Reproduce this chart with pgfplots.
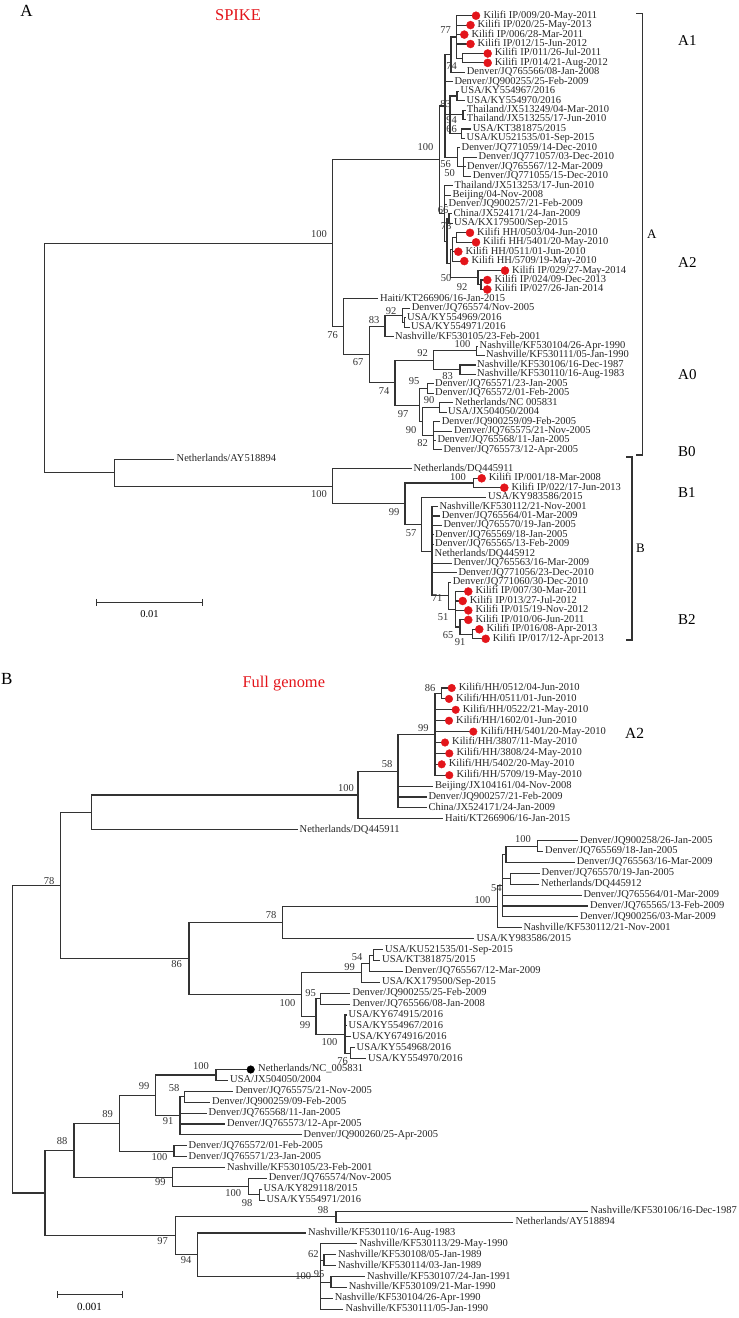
\documentclass[border=0pt]{standalone}
\usepackage{fontspec}
\setmainfont{Liberation Serif}
\usepackage{pgfplots}
\pgfplotsset{compat=1.18}
\definecolor{treeline}{HTML}{333333}
\definecolor{dotred}{HTML}{E3151B}
\tikzset{
  lab/.style={anchor=west, inner sep=0pt, font=\fontsize{10.5}{12}\selectfont, text height=7pt, text depth=2.2pt, text=black!85},
  bsl/.style={anchor=center, inner sep=0pt, font=\fontsize{10.5}{12}\selectfont, text=black!80},
}
\newcommand\lf[3]{\node[lab] at (axis cs:#1,#2) {#3};}
\newcommand\bs[3]{\node[bsl] at (axis cs:#1,#2) {#3};}
\begin{document}
\begin{tikzpicture}
\begin{axis}[name=ax, width=739pt, height=1318pt, scale only axis, xmin=0, xmax=739, ymin=0, ymax=1318, y dir=reverse, hide axis, clip=false, unbounded coords=jump]
% ---------------- Panel A tree ----------------
\addplot[treeline, line width=1.1pt, mark=none] coordinates {
(44.3,358) (44.3,243.15) (332.7,243.15) (nan,nan)
(44.3,358) (44.3,472.8) (114.7,472.8) (nan,nan)
(332.7,243.15) (332.7,159.65) (439.3,159.65) (nan,nan)
(332.7,243.15) (332.7,326.65) (343.3,326.65) (nan,nan)
(439.3,159.65) (439.3,105.95) (445,105.95) (nan,nan)
(439.3,159.65) (439.3,213.35) (444.5,213.35) (nan,nan)
(445,105.95) (445,54.6) (451,54.6) (nan,nan)
(445,105.95) (445,81.8) (452.5,81.8) (nan,nan)
(445,105.95) (445,114.85) (450,114.85) (nan,nan)
(445,105.95) (445,157.3) (457.3,157.3) (nan,nan)
(451,54.6) (451,37) (456.7,37) (nan,nan)
(451,54.6) (451,72.3) (465,72.3) (nan,nan)
(456.7,37) (456.7,15.7) (476,15.7) (nan,nan)
(456.7,37) (456.7,25.1) (470.5,25.1) (nan,nan)
(456.7,37) (456.7,34.6) (464.3,34.6) (nan,nan)
(456.7,37) (456.7,44) (470.5,44) (nan,nan)
(456.7,37) (456.7,58.2) (462.3,58.2) (nan,nan)
(462.3,58.2) (462.3,53.5) (487.7,53.5) (nan,nan)
(462.3,58.2) (462.3,62.9) (487.7,62.9) (nan,nan)
(450,114.85) (450,95.95) (457,95.95) (nan,nan)
(450,114.85) (450,114.8) (463,114.8) (nan,nan)
(450,114.85) (450,133.7) (461.7,133.7) (nan,nan)
(457,95.95) (457,91.2) (459,91.2) (nan,nan)
(457,95.95) (457,100.7) (465,100.7) (nan,nan)
(463,114.8) (463,110.1) (465.5,110.1) (nan,nan)
(463,114.8) (463,119.5) (465.5,119.5) (nan,nan)
(461.7,133.7) (461.7,129) (471,129) (nan,nan)
(461.7,133.7) (461.7,138.4) (465,138.4) (nan,nan)
(457.3,157.3) (457.3,147.9) (460,147.9) (nan,nan)
(457.3,157.3) (457.3,166.75) (463.3,166.75) (nan,nan)
(463.3,166.75) (463.3,157.3) (477,157.3) (nan,nan)
(463.3,166.75) (463.3,166.7) (465.5,166.7) (nan,nan)
(463.3,166.75) (463.3,176.2) (471,176.2) (nan,nan)
(444.5,213.35) (444.5,185.6) (453,185.6) (nan,nan)
(444.5,213.35) (444.5,195.1) (451,195.1) (nan,nan)
(444.5,213.35) (444.5,204.5) (447,204.5) (nan,nan)
(444.5,213.35) (444.5,241.1) (447,241.1) (nan,nan)
(447,241.1) (447,218.65) (449,218.65) (nan,nan)
(447,241.1) (447,263.5) (450.5,263.5) (nan,nan)
(449,218.65) (449,213.9) (452,213.9) (nan,nan)
(449,218.65) (449,223.4) (452.5,223.4) (nan,nan)
(450.5,263.5) (450.5,249.3) (452.5,249.3) (nan,nan)
(450.5,263.5) (450.5,277.7) (478,277.7) (nan,nan)
(452.5,249.3) (452.5,237.55) (456.7,237.55) (nan,nan)
(452.5,249.3) (452.5,251.7) (458.3,251.7) (nan,nan)
(452.5,249.3) (452.5,261.1) (464.3,261.1) (nan,nan)
(456.7,237.55) (456.7,232.8) (470,232.8) (nan,nan)
(456.7,237.55) (456.7,242.3) (476,242.3) (nan,nan)
(478,277.7) (478,270.6) (505,270.6) (nan,nan)
(478,277.7) (478,284.75) (481,284.75) (nan,nan)
(481,284.75) (481,280) (487.3,280) (nan,nan)
(481,284.75) (481,289.5) (487.3,289.5) (nan,nan)
(343.3,326.65) (343.3,298.9) (378,298.9) (nan,nan)
(343.3,326.65) (343.3,354.4) (369.3,354.4) (nan,nan)
(369.3,354.4) (369.3,326.05) (385,326.05) (nan,nan)
(369.3,354.4) (369.3,382.7) (395,382.7) (nan,nan)
(385,326.05) (385,315.4) (402.7,315.4) (nan,nan)
(385,326.05) (385,336.7) (393.5,336.7) (nan,nan)
(402.7,315.4) (402.7,308.3) (410,308.3) (nan,nan)
(402.7,315.4) (402.7,322.5) (404.5,322.5) (nan,nan)
(404.5,322.5) (404.5,317.8) (405.5,317.8) (nan,nan)
(404.5,322.5) (404.5,327.2) (409.5,327.2) (nan,nan)
(395,382.7) (395,360.25) (433.3,360.25) (nan,nan)
(395,382.7) (395,405.1) (419.5,405.1) (nan,nan)
(433.3,360.25) (433.3,350.8) (476.7,350.8) (nan,nan)
(433.3,360.25) (433.3,369.7) (460,369.7) (nan,nan)
(476.7,350.8) (476.7,346.1) (478,346.1) (nan,nan)
(476.7,350.8) (476.7,355.5) (484.5,355.5) (nan,nan)
(460,369.7) (460,365) (475.5,365) (nan,nan)
(460,369.7) (460,374.4) (475.5,374.4) (nan,nan)
(419.5,405.1) (419.5,388.6) (427.3,388.6) (nan,nan)
(419.5,405.1) (419.5,421.6) (422.5,421.6) (nan,nan)
(427.3,388.6) (427.3,383.9) (433.5,383.9) (nan,nan)
(427.3,388.6) (427.3,393.3) (433.5,393.3) (nan,nan)
(422.5,421.6) (422.5,407.45) (439.3,407.45) (nan,nan)
(422.5,421.6) (422.5,435.75) (433.3,435.75) (nan,nan)
(439.3,407.45) (439.3,402.7) (453,402.7) (nan,nan)
(439.3,407.45) (439.3,412.2) (446.5,412.2) (nan,nan)
(433.3,435.75) (433.3,421.6) (440,421.6) (nan,nan)
(433.3,435.75) (433.3,431.1) (452,431.1) (nan,nan)
(433.3,435.75) (433.3,440.5) (435.5,440.5) (nan,nan)
(433.3,435.75) (433.3,449.9) (441.5,449.9) (nan,nan)
(114.7,472.8) (114.7,459.4) (174,459.4) (nan,nan)
(114.7,472.8) (114.7,486.2) (332.7,486.2) (nan,nan)
(332.7,486.2) (332.7,468.8) (411.5,468.8) (nan,nan)
(332.7,486.2) (332.7,503.55) (405,503.55) (nan,nan)
(405,503.55) (405,483) (473.3,483) (nan,nan)
(405,503.55) (405,524.1) (421.7,524.1) (nan,nan)
(473.3,483) (473.3,478.3) (481.7,478.3) (nan,nan)
(473.3,483) (473.3,487.7) (504.3,487.7) (nan,nan)
(421.7,524.1) (421.7,497.1) (486,497.1) (nan,nan)
(421.7,524.1) (421.7,551.15) (432,551.15) (nan,nan)
(432,551.15) (432,506.6) (437.5,506.6) (nan,nan)
(432,551.15) (432,516) (440,516) (nan,nan)
(432,551.15) (432,525.5) (441.5,525.5) (nan,nan)
(432,551.15) (432,534.9) (433.5,534.9) (nan,nan)
(432,551.15) (432,544.3) (433.5,544.3) (nan,nan)
(432,551.15) (432,553.8) (433,553.8) (nan,nan)
(432,551.15) (432,563.2) (451.5,563.2) (nan,nan)
(432,551.15) (432,572.7) (456.5,572.7) (nan,nan)
(432,551.15) (432,595.7) (448.3,595.7) (nan,nan)
(448.3,595.7) (448.3,582.1) (451,582.1) (nan,nan)
(448.3,595.7) (448.3,609.25) (455.5,609.25) (nan,nan)
(455.5,609.25) (455.5,591.5) (468.3,591.5) (nan,nan)
(455.5,609.25) (455.5,601) (462.7,601) (nan,nan)
(455.5,609.25) (455.5,610.4) (468.3,610.4) (nan,nan)
(455.5,609.25) (455.5,627) (460,627) (nan,nan)
(460,627) (460,619.9) (468.3,619.9) (nan,nan)
(460,627) (460,634.05) (472.7,634.05) (nan,nan)
(472.7,634.05) (472.7,629.3) (479.3,629.3) (nan,nan)
(472.7,634.05) (472.7,638.8) (485.7,638.8) (nan,nan)
};
% ---------------- Panel B tree ----------------
\addplot[treeline, line width=1.1pt, mark=none] coordinates {
(12.3,1039.2) (12.3,885.5) (60.7,885.5) (nan,nan)
(12.3,1039.2) (12.3,1192.95) (45,1192.95) (nan,nan)
(60.7,885.5) (60.7,812.3) (91.7,812.3) (nan,nan)
(60.7,885.5) (60.7,958.65) (189,958.65) (nan,nan)
(91.7,812.3) (91.7,794.95) (358,794.95) (nan,nan)
(91.7,812.3) (91.7,829.7) (297.7,829.7) (nan,nan)
(358,794.95) (358,771.1) (398,771.1) (nan,nan)
(358,794.95) (358,818.8) (443,818.8) (nan,nan)
(398,771.1) (398,734.3) (435,734.3) (nan,nan)
(398,771.1) (398,786.1) (433,786.1) (nan,nan)
(398,771.1) (398,797) (426.5,797) (nan,nan)
(398,771.1) (398,807.9) (426.5,807.9) (nan,nan)
(435,734.3) (435,693.45) (441.7,693.45) (nan,nan)
(435,734.3) (435,709.8) (455.7,709.8) (nan,nan)
(435,734.3) (435,720.7) (449,720.7) (nan,nan)
(435,734.3) (435,731.6) (473.3,731.6) (nan,nan)
(435,734.3) (435,742.5) (445,742.5) (nan,nan)
(435,734.3) (435,753.4) (449.3,753.4) (nan,nan)
(435,734.3) (435,764.3) (441.7,764.3) (nan,nan)
(435,734.3) (435,775.2) (449.3,775.2) (nan,nan)
(441.7,693.45) (441.7,688) (451.7,688) (nan,nan)
(441.7,693.45) (441.7,698.9) (449,698.9) (nan,nan)
(189,958.65) (189,922.7) (282.7,922.7) (nan,nan)
(189,958.65) (189,994.6) (301.7,994.6) (nan,nan)
(282.7,922.7) (282.7,906.7) (497.7,906.7) (nan,nan)
(282.7,922.7) (282.7,938.7) (474.3,938.7) (nan,nan)
(497.7,906.7) (497.7,885.55) (502.7,885.55) (nan,nan)
(497.7,906.7) (497.7,927.8) (521.7,927.8) (nan,nan)
(502.7,885.55) (502.7,854.2) (506,854.2) (nan,nan)
(502.7,885.55) (502.7,878.75) (510.7,878.75) (nan,nan)
(502.7,885.55) (502.7,895.1) (581.5,895.1) (nan,nan)
(502.7,885.55) (502.7,906) (588,906) (nan,nan)
(502.7,885.55) (502.7,916.9) (578,916.9) (nan,nan)
(506,854.2) (506,846.05) (537.3,846.05) (nan,nan)
(506,854.2) (506,862.4) (575,862.4) (nan,nan)
(537.3,846.05) (537.3,840.6) (578,840.6) (nan,nan)
(537.3,846.05) (537.3,851.5) (543,851.5) (nan,nan)
(510.7,878.75) (510.7,873.3) (539.5,873.3) (nan,nan)
(510.7,878.75) (510.7,884.2) (539,884.2) (nan,nan)
(301.7,994.6) (301.7,972.75) (361.7,972.75) (nan,nan)
(301.7,994.6) (301.7,1016.4) (316,1016.4) (nan,nan)
(361.7,972.75) (361.7,963.2) (369.3,963.2) (nan,nan)
(361.7,972.75) (361.7,982.3) (380,982.3) (nan,nan)
(369.3,963.2) (369.3,955.05) (373.3,955.05) (nan,nan)
(369.3,963.2) (369.3,971.4) (402.7,971.4) (nan,nan)
(373.3,955.05) (373.3,949.6) (383,949.6) (nan,nan)
(373.3,955.05) (373.3,960.5) (380,960.5) (nan,nan)
(316,1016.4) (316,998.65) (320.7,998.65) (nan,nan)
(316,1016.4) (316,1034.1) (345,1034.1) (nan,nan)
(320.7,998.65) (320.7,993.2) (350,993.2) (nan,nan)
(320.7,998.65) (320.7,1004.1) (350,1004.1) (nan,nan)
(345,1034.1) (345,1015) (347,1015) (nan,nan)
(345,1034.1) (345,1025.9) (347,1025.9) (nan,nan)
(345,1034.1) (345,1036.8) (350.5,1036.8) (nan,nan)
(345,1034.1) (345,1053.15) (350.7,1053.15) (nan,nan)
(350.7,1053.15) (350.7,1047.7) (355,1047.7) (nan,nan)
(350.7,1053.15) (350.7,1058.6) (366,1058.6) (nan,nan)
(45,1192.95) (45,1150.2) (74,1150.2) (nan,nan)
(45,1192.95) (45,1235.7) (175.7,1235.7) (nan,nan)
(74,1150.2) (74,1123.3) (119.3,1123.3) (nan,nan)
(74,1150.2) (74,1177.15) (172.3,1177.15) (nan,nan)
(119.3,1123.3) (119.3,1095.4) (155.7,1095.4) (nan,nan)
(119.3,1123.3) (119.3,1151.25) (174,1151.25) (nan,nan)
(155.7,1095.4) (155.7,1074.95) (216,1074.95) (nan,nan)
(155.7,1095.4) (155.7,1115.8) (180,1115.8) (nan,nan)
(216,1074.95) (216,1069.5) (250.7,1069.5) (nan,nan)
(216,1074.95) (216,1080.4) (228,1080.4) (nan,nan)
(180,1115.8) (180,1096.75) (184.3,1096.75) (nan,nan)
(180,1115.8) (180,1113.1) (206.7,1113.1) (nan,nan)
(180,1115.8) (180,1124) (225,1124) (nan,nan)
(180,1115.8) (180,1134.9) (301.7,1134.9) (nan,nan)
(184.3,1096.75) (184.3,1091.3) (233.3,1091.3) (nan,nan)
(184.3,1096.75) (184.3,1102.2) (210,1102.2) (nan,nan)
(174,1151.25) (174,1145.8) (186.7,1145.8) (nan,nan)
(174,1151.25) (174,1156.7) (186.7,1156.7) (nan,nan)
(172.3,1177.15) (172.3,1167.6) (225,1167.6) (nan,nan)
(172.3,1177.15) (172.3,1186.7) (248.3,1186.7) (nan,nan)
(248.3,1186.7) (248.3,1178.5) (266.7,1178.5) (nan,nan)
(248.3,1186.7) (248.3,1194.85) (259.3,1194.85) (nan,nan)
(259.3,1194.85) (259.3,1189.4) (261.5,1189.4) (nan,nan)
(259.3,1194.85) (259.3,1200.3) (264.5,1200.3) (nan,nan)
(175.7,1235.7) (175.7,1216.65) (336,1216.65) (nan,nan)
(175.7,1235.7) (175.7,1254.8) (197.7,1254.8) (nan,nan)
(336,1216.65) (336,1211.2) (588.3,1211.2) (nan,nan)
(336,1216.65) (336,1222.1) (513.3,1222.1) (nan,nan)
(197.7,1254.8) (197.7,1233) (306,1233) (nan,nan)
(197.7,1254.8) (197.7,1276.6) (320.7,1276.6) (nan,nan)
(320.7,1276.6) (320.7,1243.9) (357.3,1243.9) (nan,nan)
(320.7,1276.6) (320.7,1260.25) (324,1260.25) (nan,nan)
(320.7,1276.6) (320.7,1282.05) (331,1282.05) (nan,nan)
(320.7,1276.6) (320.7,1298.4) (332.7,1298.4) (nan,nan)
(320.7,1276.6) (320.7,1309.3) (343.3,1309.3) (nan,nan)
(324,1260.25) (324,1254.8) (336,1254.8) (nan,nan)
(324,1260.25) (324,1265.7) (336,1265.7) (nan,nan)
(331,1282.05) (331,1276.6) (365,1276.6) (nan,nan)
(331,1282.05) (331,1287.5) (346.7,1287.5) (nan,nan)
};
% scale bars and brackets
\addplot[treeline, line width=1.1pt, mark=none] coordinates {
(96.7,602.3) (202.3,602.3) (nan,nan)
(96.7,598.8) (96.7,605.8) (nan,nan)
(202.3,598.8) (202.3,605.8) (nan,nan)
(57.3,1294.7) (122.7,1294.7) (nan,nan)
(57.3,1291.2) (57.3,1298.2) (nan,nan)
(122.7,1291.2) (122.7,1298.2) (nan,nan)
(636,13.6) (642.3,13.6) (642.3,455) (636,455) (nan,nan)
(626,457) (632,457) (632,640) (626,640)
};
% red dots
\addplot[only marks, mark=*, mark size=4pt, color=dotred] coordinates {
(476,15.7) (470.5,25.1) (464.3,34.6) (470.5,44) (487.7,53.5) (487.7,62.9)
(470,232.8) (476,242.3) (458.3,251.7) (464.3,261.1) (505,270.6) (487.3,280) (487.3,289.5)
(481.7,478.3) (504.3,487.7)
(468.3,591.5) (462.7,601) (468.3,610.4) (468.3,619.9) (479.3,629.3) (485.7,638.8)
};
\addplot[only marks, mark=*, mark size=3.8pt, color=dotred] coordinates {
(451.7,688) (449,698.9) (455.7,709.8) (449,720.7) (473.3,731.6) (445,742.5) (449.3,753.4) (441.7,764.3) (449.3,775.2)
};
\addplot[only marks, mark=*, mark size=3.8pt, color=black] coordinates {(250.7,1069.5)};
% ---------------- Panel A labels ----------------
\lf{483.3}{15.7}{Kilifi IP/009/20-May-2011}
\lf{477.5}{25.1}{Kilifi IP/020/25-May-2013}
\lf{471.3}{34.6}{Kilifi IP/006/28-Mar-2011}
\lf{477.5}{44}{Kilifi IP/012/15-Jun-2012}
\lf{494.7}{53.5}{Kilifi IP/011/26-Jul-2011}
\lf{494.7}{62.9}{Kilifi IP/014/21-Aug-2012}
\lf{466.7}{72.3}{Denver/JQ765566/08-Jan-2008}
\lf{454.3}{81.8}{Denver/JQ900255/25-Feb-2009}
\lf{460.5}{91.2}{USA/KY554967/2016}
\lf{466.5}{100.7}{USA/KY554970/2016}
\lf{466.7}{110.1}{Thailand/JX513249/04-Mar-2010}
\lf{466.7}{119.5}{Thailand/JX513255/17-Jun-2010}
\lf{472.7}{129}{USA/KT381875/2015}
\lf{466.5}{138.4}{USA/KU521535/01-Sep-2015}
\lf{461.5}{147.9}{Denver/JQ771059/14-Dec-2010}
\lf{478.5}{157.3}{Denver/JQ771057/03-Dec-2010}
\lf{467}{166.7}{Denver/JQ765567/12-Mar-2009}
\lf{472.7}{176.2}{Denver/JQ771055/15-Dec-2010}
\lf{454.5}{185.6}{Thailand/JX513253/17-Jun-2010}
\lf{452.5}{195.1}{Beijing/04-Nov-2008}
\lf{448.5}{204.5}{Denver/JQ900257/21-Feb-2009}
\lf{453.5}{213.9}{China/JX524171/24-Jan-2009}
\lf{454}{223.4}{USA/KX179500/Sep-2015}
\lf{477}{232.8}{Kilifi HH/0503/04-Jun-2010}
\lf{483}{242.3}{Kilifi HH/5401/20-May-2010}
\lf{465.3}{251.7}{Kilifi HH/0511/01-Jun-2010}
\lf{471.3}{261.1}{Kilifi HH/5709/19-May-2010}
\lf{512}{270.6}{Kilifi IP/029/27-May-2014}
\lf{494.3}{280}{Kilifi IP/024/09-Dec-2013}
\lf{494.3}{289.5}{Kilifi IP/027/26-Jan-2014}
\lf{380}{298.9}{Haiti/KT266906/16-Jan-2015}
\lf{411.7}{308.3}{Denver/JQ765574/Nov-2005}
\lf{407}{317.8}{USA/KY554969/2016}
\lf{411}{327.2}{USA/KY554971/2016}
\lf{395}{336.7}{Nashville/KF530105/23-Feb-2001}
\lf{479.5}{346.1}{Nashville/KF530104/26-Apr-1990}
\lf{486}{355.5}{Nashville/KF530111/05-Jan-1990}
\lf{477}{365}{Nashville/KF530106/16-Dec-1987}
\lf{477}{374.4}{Nashville/KF530110/16-Aug-1983}
\lf{435}{383.9}{Denver/JQ765571/23-Jan-2005}
\lf{435}{393.3}{Denver/JQ765572/01-Feb-2005}
\lf{455}{402.7}{Netherlands/NC 005831}
\lf{448}{412.2}{USA/JX504050/2004}
\lf{441.7}{421.6}{Denver/JQ900259/09-Feb-2005}
\lf{454}{431.1}{Denver/JQ765575/21-Nov-2005}
\lf{437.3}{440.5}{Denver/JQ765568/11-Jan-2005}
\lf{443.3}{449.9}{Denver/JQ765573/12-Apr-2005}
\lf{176.5}{459.4}{Netherlands/AY518894}
\lf{413.3}{468.8}{Netherlands/DQ445911}
\lf{488.7}{478.3}{Kilifi IP/001/18-Mar-2008}
\lf{511.3}{487.7}{Kilifi IP/022/17-Jun-2013}
\lf{488}{497.1}{USA/KY983586/2015}
\lf{439.3}{506.6}{Nashville/KF530112/21-Nov-2001}
\lf{441.7}{516}{Denver/JQ765564/01-Mar-2009}
\lf{443.3}{525.5}{Denver/JQ765570/19-Jan-2005}
\lf{435}{534.9}{Denver/JQ765569/18-Jan-2005}
\lf{435}{544.3}{Denver/JQ765565/13-Feb-2009}
\lf{434.5}{553.8}{Netherlands/DQ445912}
\lf{453.3}{563.2}{Denver/JQ765563/16-Mar-2009}
\lf{458.3}{572.7}{Denver/JQ771056/23-Dec-2010}
\lf{452.7}{582.1}{Denver/JQ771060/30-Dec-2010}
\lf{475.3}{591.5}{Kilifi IP/007/30-Mar-2011}
\lf{469.7}{601}{Kilifi IP/013/27-Jul-2012}
\lf{475.3}{610.4}{Kilifi IP/015/19-Nov-2012}
\lf{475.3}{619.9}{Kilifi IP/010/06-Jun-2011}
\lf{486.3}{629.3}{Kilifi IP/016/08-Apr-2013}
\lf{492.7}{638.8}{Kilifi IP/017/12-Apr-2013}
% bootstrap A
\bs{445.5}{30}{77}
\bs{451.5}{66.5}{74}
\bs{445.5}{104}{83}
\bs{451.7}{120}{94}
\bs{451.5}{129}{66}
\bs{425.5}{147.5}{100}
\bs{445.5}{164}{56}
\bs{449.5}{173.5}{50}
\bs{443}{210.5}{66}
\bs{446}{226}{78}
\bs{446}{278.3}{50}
\bs{462}{287}{92}
\bs{319}{234}{100}
\bs{332.5}{335}{76}
\bs{358}{362.5}{67}
\bs{374}{319.6}{83}
\bs{391}{310.7}{92}
\bs{384}{391}{74}
\bs{422.5}{352.7}{92}
\bs{462.5}{344.5}{100}
\bs{447.5}{376.5}{83}
\bs{414}{381}{95}
\bs{429}{400}{90}
\bs{403}{414}{97}
\bs{411}{430}{90}
\bs{422.5}{443.3}{82}
\bs{319}{494}{100}
\bs{458}{477.5}{100}
\bs{394}{511.7}{99}
\bs{411}{533.3}{57}
\bs{437}{598.3}{71}
\bs{443}{617.3}{51}
\bs{448}{635}{65}
\bs{460}{641.7}{91}
% titles and clade labels A
\node[anchor=center, inner sep=0pt, font=\fontsize{17}{20}\selectfont] at (axis cs:26.5,11) {A};
\node[anchor=center, inner sep=0pt, font=\fontsize{16.5}{20}\selectfont, text=dotred] at (axis cs:238,15) {SPIKE};
\node[anchor=center, inner sep=0pt, font=\fontsize{10.5}{12}\selectfont] at (axis cs:149.5,614.3) {0.01};
\node[anchor=west, inner sep=0pt, font=\fontsize{13}{15}\selectfont] at (axis cs:647,234) {A};
\node[anchor=west, inner sep=0pt, font=\fontsize{13}{15}\selectfont] at (axis cs:636,548) {B};
\node[anchor=west, inner sep=0pt, font=\fontsize{15}{18}\selectfont] at (axis cs:678,41) {A1};
\node[anchor=west, inner sep=0pt, font=\fontsize{15}{18}\selectfont] at (axis cs:678,262.5) {A2};
\node[anchor=west, inner sep=0pt, font=\fontsize{15}{18}\selectfont] at (axis cs:678,375) {A0};
\node[anchor=west, inner sep=0pt, font=\fontsize{15}{18}\selectfont] at (axis cs:678,452) {B0};
\node[anchor=west, inner sep=0pt, font=\fontsize{15}{18}\selectfont] at (axis cs:678,493) {B1};
\node[anchor=west, inner sep=0pt, font=\fontsize{15}{18}\selectfont] at (axis cs:678,620) {B2};
% ---------------- Panel B labels ----------------
\lf{458.7}{688}{Kilifi/HH/0512/04-Jun-2010}
\lf{456}{698.9}{Kilifi/HH/0511/01-Jun-2010}
\lf{462.7}{709.8}{Kilifi/HH/0522/21-May-2010}
\lf{456}{720.7}{Kilifi/HH/1602/01-Jun-2010}
\lf{480.3}{731.6}{Kilifi/HH/5401/20-May-2010}
\lf{452}{742.5}{Kilifi/HH/3807/11-May-2010}
\lf{456.3}{753.4}{Kilifi/HH/3808/24-May-2010}
\lf{448.7}{764.3}{Kilifi/HH/5402/20-May-2010}
\lf{456.3}{775.2}{Kilifi/HH/5709/19-May-2010}
\lf{435}{786.1}{Beijing/JX104161/04-Nov-2008}
\lf{428.3}{797}{Denver/JQ900257/21-Feb-2009}
\lf{428.3}{807.9}{China/JX524171/24-Jan-2009}
\lf{445}{818.8}{Haiti/KT266906/16-Jan-2015}
\lf{299.5}{829.7}{Netherlands/DQ445911}
\lf{580}{840.6}{Denver/JQ900258/26-Jan-2005}
\lf{545}{851.5}{Denver/JQ765569/18-Jan-2005}
\lf{576.7}{862.4}{Denver/JQ765563/16-Mar-2009}
\lf{541.5}{873.3}{Denver/JQ765570/19-Jan-2005}
\lf{541}{884.2}{Netherlands/DQ445912}
\lf{583.3}{895.1}{Denver/JQ765564/01-Mar-2009}
\lf{590}{906}{Denver/JQ765565/13-Feb-2009}
\lf{580}{916.9}{Denver/JQ900256/03-Mar-2009}
\lf{523.3}{927.8}{Nashville/KF530112/21-Nov-2001}
\lf{476.3}{938.7}{USA/KY983586/2015}
\lf{385}{949.6}{USA/KU521535/01-Sep-2015}
\lf{382}{960.5}{USA/KT381875/2015}
\lf{404.7}{971.4}{Denver/JQ765567/12-Mar-2009}
\lf{382}{982.3}{USA/KX179500/Sep-2015}
\lf{352.3}{993.2}{Denver/JQ900255/25-Feb-2009}
\lf{352.3}{1004.1}{Denver/JQ765566/08-Jan-2008}
\lf{348.5}{1015}{USA/KY674915/2016}
\lf{348.5}{1025.9}{USA/KY554967/2016}
\lf{352}{1036.8}{USA/KY674916/2016}
\lf{356.5}{1047.7}{USA/KY554968/2016}
\lf{368}{1058.6}{USA/KY554970/2016}
\lf{258}{1069.5}{Netherlands/NC\_005831}
\lf{230}{1080.4}{USA/JX504050/2004}
\lf{235.3}{1091.3}{Denver/JQ765575/21-Nov-2005}
\lf{212}{1102.2}{Denver/JQ900259/09-Feb-2005}
\lf{208.5}{1113.1}{Denver/JQ765568/11-Jan-2005}
\lf{227}{1124}{Denver/JQ765573/12-Apr-2005}
\lf{303.5}{1134.9}{Denver/JQ900260/25-Apr-2005}
\lf{188.5}{1145.8}{Denver/JQ765572/01-Feb-2005}
\lf{188.5}{1156.7}{Denver/JQ765571/23-Jan-2005}
\lf{227}{1167.6}{Nashville/KF530105/23-Feb-2001}
\lf{268.7}{1178.5}{Denver/JQ765574/Nov-2005}
\lf{263.3}{1189.4}{USA/KY829118/2015}
\lf{266.3}{1200.3}{USA/KY554971/2016}
\lf{590.3}{1211.2}{Nashville/KF530106/16-Dec-1987}
\lf{515.3}{1222.1}{Netherlands/AY518894}
\lf{308}{1233}{Nashville/KF530110/16-Aug-1983}
\lf{359.3}{1243.9}{Nashville/KF530113/29-May-1990}
\lf{338}{1254.8}{Nashville/KF530108/05-Jan-1989}
\lf{338}{1265.7}{Nashville/KF530114/03-Jan-1989}
\lf{367}{1276.6}{Nashville/KF530107/24-Jan-1991}
\lf{348.7}{1287.5}{Nashville/KF530109/21-Mar-1990}
\lf{334.7}{1298.4}{Nashville/KF530104/26-Apr-1990}
\lf{345.3}{1309.3}{Nashville/KF530111/05-Jan-1990}
% bootstrap B
\bs{430}{688.3}{86}
\bs{423.3}{728}{99}
\bs{387}{764}{58}
\bs{346}{788}{100}
\bs{523}{839}{100}
\bs{496.3}{888.3}{54}
\bs{482.5}{900}{100}
\bs{271}{915}{78}
\bs{357}{956.7}{54}
\bs{349.7}{966.7}{99}
\bs{310.5}{992.7}{95}
\bs{305}{1025}{99}
\bs{329.5}{1041.7}{100}
\bs{342.5}{1061}{76}
\bs{287.5}{1002.7}{100}
\bs{176.7}{964.2}{86}
\bs{49.2}{880.8}{78}
\bs{201}{1066.1}{100}
\bs{174}{1088}{58}
\bs{168}{1121.5}{91}
\bs{144}{1086.2}{99}
\bs{107.5}{1114}{89}
\bs{62}{1141.2}{88}
\bs{159.5}{1157}{100}
\bs{160.3}{1182}{99}
\bs{233.3}{1193}{100}
\bs{247}{1202.7}{98}
\bs{162.5}{1241}{97}
\bs{186}{1260.2}{94}
\bs{323}{1210}{98}
\bs{313.3}{1254}{62}
\bs{319}{1274}{95}
\bs{303.3}{1275.7}{100}
% titles B
\node[anchor=center, inner sep=0pt, font=\fontsize{17}{20}\selectfont] at (axis cs:6.7,678.7) {B};
\node[anchor=center, inner sep=0pt, font=\fontsize{16.4}{20}\selectfont, text=dotred] at (axis cs:283.8,683.5) {Full genome};
\node[anchor=west, inner sep=0pt, font=\fontsize{15.5}{18}\selectfont] at (axis cs:625,733) {A2};
\node[anchor=center, inner sep=0pt, font=\fontsize{11}{13}\selectfont] at (axis cs:89.5,1306.6) {0.001};
\end{axis}
\pgfresetboundingbox
\path[use as bounding box] (ax.south west) rectangle (ax.north east);
\end{tikzpicture}
\end{document}
